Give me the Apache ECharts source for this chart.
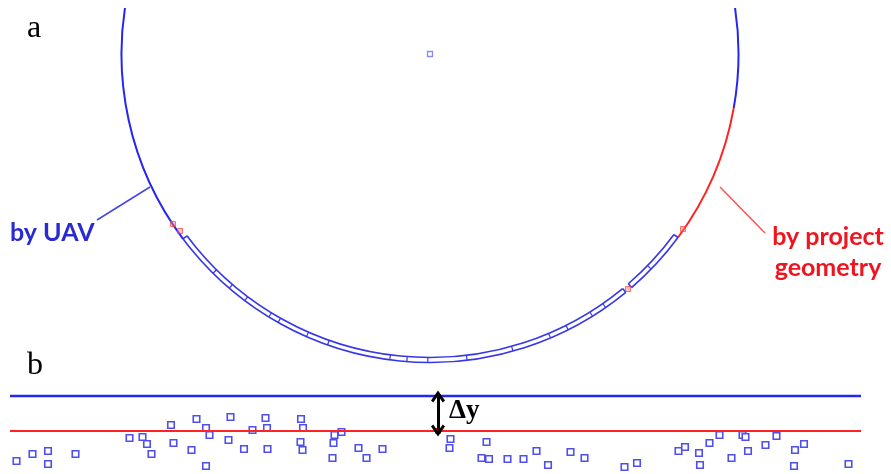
<!DOCTYPE html>
<html>
<head>
<meta charset="utf-8">
<script src="https://cdn.jsdelivr.net/npm/echarts@6/dist/echarts.min.js"></script>
<style>
  html, body { margin: 0; padding: 0; background: #ffffff; }
  #chart { width: 891px; height: 474px; }
</style>
</head>
<body>
<div id="chart"></div>
<script>
// ---- Panel a: tunnel cross-section (metres, tunnel centre at origin) ----
const tunnelCentre = [0, 0];
const liningRadius = 6.17;          // surveyed / design lining line
const ringInnerRadius = 6.07;       // inner face of the segment ring
// arc spans in degrees, counter-clockwise from +x
const uavArcs = [[168, 216.8], [-10.1, 12]];
const designArcs = [[-36.5, -10.1]];
const ringPieces = [[-143.2, -50.6], [-49.2, -36.5]];
const ringJoints = [-134.7, -130.6, -126.9, -121.5, -119.5, -113.6, -109.4,
                    -97.5, -94.3, -90.4, -83.1, -74.4, -67.0, -63.4, -58.2, -55.3, -44.2];
const designMarks = [[-5.14, -3.40], [-5.00, -3.54], [5.06, -3.50], [3.96, -4.70]];
const uavLeader = [[-6.66, -3.32], [-5.60, -2.66]];
const designLeader = [[5.80, -2.66], [6.70, -3.58]];
const uavLabelAt = [-8.4, -3.58];
const designLabelAt = [7.96, -3.97];

// ---- Panel b: longitudinal level check ----
const chainRange = [0, 170.2];
const uavLevel = 3.5;
const designLevel = 0;
const offsetAt = 85.6;
const deltaLabelAt = [87.8, 2.0];
const surveyPoints = [
  [1.3, -3.0], [4.5, -2.3], [7.6, -2.0], [7.6, -3.3], [13.1, -2.3],
  [23.9, -0.7], [26.5, -0.6], [27.4, -1.3], [28.3, -2.3], [32.2, 0.6],
  [32.7, -1.2], [36.3, -1.9], [37.3, 1.2], [39.2, 0.3], [39.9, -0.4],
  [39.2, -3.5], [43.7, -0.9], [44.1, 1.4], [46.8, -1.8], [48.5, 0.1],
  [51.1, 1.3], [51.4, 0.3], [51.5, -1.8], [58.2, 1.2], [58.6, 0.3],
  [58.1, -1.1], [58.5, -1.9], [64.9, -0.4], [66.3, -0.1], [64.7, -1.2],
  [64.5, -2.7], [69.7, -1.7], [71.3, -2.7], [74.5, -1.8], [88.1, -0.8],
  [87.9, -1.7], [95.3, -1.1], [94.3, -2.7], [95.8, -2.8], [99.5, -2.8],
  [102.7, -2.8], [105.3, -2.0], [107.6, -3.4], [112.1, -2.1], [114.9, -2.7],
  [122.9, -3.6], [125.4, -3.2], [133.7, -2.0], [135.0, -1.6], [137.8, -2.2],
  [138.0, -3.4], [139.9, -1.2], [141.9, -0.4], [146.5, -0.4], [147.1, -0.6],
  [147.6, -2.0], [144.3, -2.7], [151.1, -1.4], [153.3, -0.5], [157.0, -1.9],
  [158.8, -1.3], [156.8, -3.5], [167.7, -3.3]
];

const BLUE = '#2626f2';
const RED = '#ff2222';
const RING_BLUE = '#3636e8';
const DEG = Math.PI / 180;

function arcSeries(name, arcs, radius, color, width) {
  return {
    type: 'custom', name: name, xAxisIndex: 0, yAxisIndex: 0, clip: true, silent: true,
    data: arcs.map(a => [tunnelCentre[0], tunnelCentre[1], a[0], a[1]]),
    encode: { x: 0, y: 1 },
    renderItem: function (params, api) {
      const c = api.coord([api.value(0), api.value(1)]);
      const r = api.size([radius, 0])[0];
      return {
        type: 'arc',
        shape: { cx: c[0], cy: c[1], r: r,
                 startAngle: -api.value(3) * DEG, endAngle: -api.value(2) * DEG, clockwise: true },
        style: { fill: 'none', stroke: color, lineWidth: width }
      };
    }
  };
}

function radialLine(c, rIn, rOut, deg, color, width) {
  const t = -deg * DEG;
  return {
    type: 'line',
    shape: { x1: c[0] + rIn * Math.cos(t), y1: c[1] + rIn * Math.sin(t),
             x2: c[0] + rOut * Math.cos(t), y2: c[1] + rOut * Math.sin(t) },
    style: { stroke: color, lineWidth: width }
  };
}

const ringSeries = {
  type: 'custom', name: 'segment ring', xAxisIndex: 0, yAxisIndex: 0, clip: true, silent: true,
  data: ringPieces.map(p => [tunnelCentre[0], tunnelCentre[1], p[0], p[1]]),
  encode: { x: 0, y: 1 },
  renderItem: function (params, api) {
    const c = api.coord([api.value(0), api.value(1)]);
    const rOut = api.size([liningRadius, 0])[0];
    const rIn = api.size([ringInnerRadius, 0])[0];
    const a0 = api.value(2), a1 = api.value(3);
    const arc = r => ({
      type: 'arc',
      shape: { cx: c[0], cy: c[1], r: r, startAngle: -a1 * DEG, endAngle: -a0 * DEG, clockwise: true },
      style: { fill: 'none', stroke: RING_BLUE, lineWidth: 1.6 }
    });
    return {
      type: 'group',
      children: [arc(rOut), arc(rIn),
                 radialLine(c, rIn, rOut, a0, RING_BLUE, 1.6),
                 radialLine(c, rIn, rOut, a1, RING_BLUE, 1.6)]
    };
  }
};

const jointSeries = {
  type: 'custom', name: 'ring joints', xAxisIndex: 0, yAxisIndex: 0, clip: true, silent: true,
  data: ringJoints.map(a => [tunnelCentre[0], tunnelCentre[1], a]),
  encode: { x: 0, y: 1 },
  renderItem: function (params, api) {
    const c = api.coord([api.value(0), api.value(1)]);
    const rOut = api.size([liningRadius, 0])[0];
    const rIn = api.size([ringInnerRadius, 0])[0];
    return radialLine(c, rIn, rOut, api.value(2), RING_BLUE, 1.2);
  }
};

// open chevron head pointing up; markLine turns it along the line
const chevron = 'path://M5,0 L10,7.5 L8.4,9 L5,4 L1.6,9 L0,7.5 Z';

const option = {
  animation: false,
  backgroundColor: '#ffffff',
  grid: [
    { left: 10, width: 850, top: 8, height: 364, containLabel: false },
    { left: 10, width: 851, top: 380, height: 94, containLabel: false }
  ],
  xAxis: [
    { type: 'value', gridIndex: 0, min: -8.4, max: 8.6, show: false, splitLine: { show: false } },
    { type: 'value', gridIndex: 1, min: chainRange[0], max: chainRange[1], show: false, splitLine: { show: false } }
  ],
  yAxis: [
    { type: 'value', gridIndex: 0, min: -6.36, max: 0.92, show: false, splitLine: { show: false } },
    { type: 'value', gridIndex: 1, min: -4.3, max: 5.1, show: false, splitLine: { show: false } }
  ],
  graphic: [
    { type: 'text', x: 27, y: 29, style: { text: 'a', font: '32px "Liberation Serif"', fill: '#000', verticalAlign: 'middle' } },
    { type: 'text', x: 27, y: 366, style: { text: 'b', font: '32px "Liberation Serif"', fill: '#000', verticalAlign: 'middle' } }
  ],
  series: [
    arcSeries('by UAV', uavArcs, liningRadius, BLUE, 2),
    arcSeries('by project geometry', designArcs, liningRadius, RED, 2),
    ringSeries,
    jointSeries,
    {
      type: 'scatter', name: 'tunnel centre', xAxisIndex: 0, yAxisIndex: 0, silent: true,
      data: [tunnelCentre], symbol: 'rect', symbolSize: 5,
      itemStyle: { color: '#ffffff', borderColor: '#8a8af2', borderWidth: 1.3, opacity: 1 }
    },
    {
      type: 'scatter', name: 'design marks', xAxisIndex: 0, yAxisIndex: 0, silent: true,
      data: designMarks, symbol: 'rect', symbolSize: 5,
      itemStyle: { color: 'rgba(255,120,120,0.45)', borderColor: 'rgba(255,60,60,0.7)', borderWidth: 1, opacity: 1 }
    },
    {
      type: 'line', name: 'uav leader', xAxisIndex: 0, yAxisIndex: 0, silent: true,
      data: uavLeader, symbol: 'none', lineStyle: { color: '#4545e2', width: 1.5 }
    },
    {
      type: 'line', name: 'design leader', xAxisIndex: 0, yAxisIndex: 0, silent: true,
      data: designLeader, symbol: 'none', lineStyle: { color: '#ff5252', width: 1.5 }
    },
    {
      type: 'scatter', name: 'labels a', xAxisIndex: 0, yAxisIndex: 0, silent: true, symbolSize: 0,
      itemStyle: { opacity: 1 },
      data: [
        { value: uavLabelAt, label: { show: true, formatter: 'by UAV', position: 'right', distance: 0,
            color: '#2a2ad4', fontFamily: 'Lato', fontWeight: 'bold', fontSize: 25 } },
        { value: designLabelAt, label: { show: true, formatter: 'by project\ngeometry', position: 'inside',
            align: 'center', verticalAlign: 'middle', lineHeight: 31, textBorderWidth: 0,
            color: '#f0141e', fontFamily: 'Lato', fontWeight: 'bold', fontSize: 25 } }
      ]
    },
    {
      type: 'line', name: 'UAV level', xAxisIndex: 1, yAxisIndex: 1, silent: true,
      data: [[chainRange[0], uavLevel], [chainRange[1], uavLevel]],
      symbol: 'none', lineStyle: { color: BLUE, width: 2.5 }
    },
    {
      type: 'line', name: 'design level', xAxisIndex: 1, yAxisIndex: 1, silent: true,
      data: [[chainRange[0], designLevel], [chainRange[1], designLevel]],
      symbol: 'none', lineStyle: { color: RED, width: 2 },
      markLine: {
        silent: true, symbol: [chevron, chevron], symbolSize: [14, 12],
        label: { show: false },
        lineStyle: { color: '#000000', width: 3, type: 'solid' },
        data: [[{ coord: [offsetAt, designLevel + 0.05] }, { coord: [offsetAt, uavLevel - 0.05] }]]
      }
    },
    {
      type: 'scatter', name: 'survey points', xAxisIndex: 1, yAxisIndex: 1, silent: true,
      data: surveyPoints, symbol: 'rect', symbolSize: 6.5,
      itemStyle: { color: '#ffffff', borderColor: '#4f4fee', borderWidth: 1.6, opacity: 1 }
    },
    {
      type: 'scatter', name: 'offset foot', xAxisIndex: 1, yAxisIndex: 1, silent: true,
      data: [[offsetAt, designLevel]], symbol: 'rect', symbolSize: 5,
      itemStyle: { color: 'rgba(255,80,80,0.6)', borderColor: RED, borderWidth: 1, opacity: 1 }
    },
    {
      type: 'scatter', name: 'offset label', xAxisIndex: 1, yAxisIndex: 1, silent: true, symbolSize: 0,
      itemStyle: { opacity: 1 },
      data: [{ value: deltaLabelAt, label: { show: true, formatter: 'Δy', position: 'right', distance: 0,
          color: '#000000', fontFamily: 'Liberation Serif', fontWeight: 'bold', fontSize: 27 } }]
    }
  ]
};

const chart = echarts.init(document.getElementById('chart'), null, { renderer: 'canvas' });
chart.setOption(option);
</script>
</body>
</html>
